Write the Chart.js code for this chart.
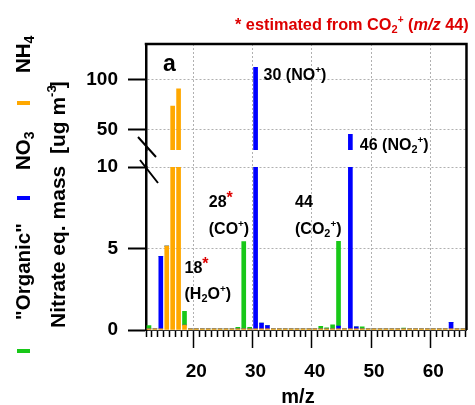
<!DOCTYPE html>
<html>
<head>
<meta charset="utf-8">
<script src="https://cdn.jsdelivr.net/npm/chart.js@4/dist/chart.umd.min.js"></script>
<style>
html,body{margin:0;padding:0;background:#fff;}
#wrap{width:475px;height:405px;position:relative;}
</style>
</head>
<body>
<div id="wrap"><canvas id="c" width="475" height="405"></canvas></div>
<script>
// ---------------- data ----------------
const mz = [12,13,14,15,16,17,18,19,20,21,22,23,24,25,26,27,28,29,30,31,32,33,34,35,36,37,38,39,40,41,42,43,44,45,46,47,48,49,50,51,52,53,54,55,56,57,58,59,60,61,62,63,64,65];
const organic = [
  0.2,0,0,0,0,0,0.85,0,0,0,
  0,0,0,0,0,0.1,5.35,0.1,0,0,
  0,0,0,0,0,0,0,0,0,0.15,
  0.07,0.25,5.2,0,0,0,0.12,0,0,0,
  0,0,0,0.05,0,0,0,0,0,0,
  0,0,0,0];
const nitrate = [
  0,0,4.45,0,0,0,0,0,0,0,
  0,0,0,0,0,0,0,0,111.9,0.35,
  0.2,0,0,0,0,0,0,0,0,0,
  0,0,0.17,0,45.5,0.12,0,0,0,0,
  0,0,0,0,0,0,0,0,0,0,
  0,0.4,0,0];
const ammonium = [
  0.07,0.07,0.07,5.15,73.6,90.7,0.3,0.07,0.07,0.07,
  0.07,0.07,0.07,0.07,0.07,0.07,0.07,0.07,0.07,0.07,
  0.07,0.07,0.07,0.07,0.07,0.07,0.07,0.07,0.07,0.07,
  0.07,0.07,0.07,0.07,0.07,0.07,0.07,0.07,0.07,0.07,
  0.07,0.07,0.07,0.07,0.07,0.07,0.07,0.07,0.07,0.07,
  0.07,0.07,0.07,0.07];
const xMajorTicks = [20,30,40,50,60];
const yLowTicks = [0,5,10];
const yHighTicks = [50,100];
const lowRange = [0,10];
const highRange = [30,135];
const xRange = [12,65.1];

// ---------------- styling ----------------
const FONT = '"Liberation Sans", Arial, Helvetica, sans-serif';
const C_ORG = '#18c818', C_NO3 = '#0000ff', C_NH4 = '#ffa800', C_RED = '#dd0000';

// series in stacking order (bottom -> top)
const series = [
  {name:'NH4', values: ammonium, color: C_NH4},
  {name:'NO3', values: nitrate, color: C_NO3},
  {name:'Org', values: organic, color: C_ORG}
];

// lower segment: stacked, capped at the segment top
const running = mz.map(() => 0);
const datasets = [];
series.forEach(s => {
  datasets.push({
    label: s.name + ' low', yAxisID: 'yLow', backgroundColor: s.color,
    data: mz.map((m, i) => {
      const v = Math.max(0, Math.min(s.values[i], lowRange[1] - running[i]));
      running[i] += v;
      return {x: m, y: v};
    }),
    barThickness: 4, grouped: false, borderWidth: 0
  });
});
// upper segment: floating bars from segment bottom to value
series.forEach(s => {
  datasets.push({
    label: s.name + ' high', yAxisID: 'yHigh', backgroundColor: s.color,
    data: mz.map((m, i) => s.values[i] > highRange[0] ? {x: m, y: [highRange[0], s.values[i]]} : null).filter(d => d),
    barThickness: 4, grouped: false, borderWidth: 0
  });
});

// rich text helper
function rich(ctx, x, y, parts, size) {
  let cx = 0;
  ctx.textAlign = 'left';
  ctx.textBaseline = 'alphabetic';
  for (const p of parts) {
    const t = p.t, mode = p.m || 'n';
    let fs = size, dy = 0;
    if (mode === 'sup') { fs = size * 0.62; dy = -size * 0.42; }
    if (mode === 'sub') { fs = size * 0.68; dy = size * 0.2; }
    if (mode === 'star') { fs = size; dy = -size * 0.25; }
    ctx.font = (p.it ? 'italic ' : '') + 'bold ' + fs + 'px ' + FONT;
    ctx.fillStyle = p.c || '#000';
    cx += (p.back || 0);
    ctx.fillText(t, x + cx, y + dy);
    cx += ctx.measureText(t).width;
  }
}

const decor = {
  id: 'decor',
  afterDraw(chart) {
    const ctx = chart.ctx, ca = chart.chartArea;
    const sx = chart.scales.x, lo = chart.scales.yLow, hi = chart.scales.yHigh;
    ctx.save();
    // frame: top & right
    ctx.strokeStyle = '#000';
    ctx.lineWidth = 2.5;
    ctx.beginPath();
    ctx.moveTo(ca.left - 1.25, ca.top);
    ctx.lineTo(ca.right, ca.top);
    ctx.lineTo(ca.right, ca.bottom);
    ctx.stroke();
    // axis break marks
    ctx.lineWidth = 2;
    ctx.beginPath();
    ctx.moveTo(ca.left - 8, hi.bottom - 13); ctx.lineTo(ca.left + 10, hi.bottom + 7);
    ctx.moveTo(ca.left - 6, lo.top - 7); ctx.lineTo(ca.left + 12, lo.top + 16);
    ctx.stroke();

    // panel letter
    ctx.font = 'bold 23px ' + FONT; ctx.fillStyle = '#000';
    ctx.textAlign = 'left'; ctx.textBaseline = 'alphabetic';
    ctx.fillText('a', ca.left + 17, ca.top + 27);

    // peak annotations
    const s = 16;
    rich(ctx, sx.getPixelForValue(30) + 8, 80, [{t:'30 (NO'},{t:'+',m:'sup'},{t:')'}], s);
    rich(ctx, sx.getPixelForValue(46) + 9.5, 150, [{t:'46 (NO'},{t:'2',m:'sub'},{t:'+',m:'sup'},{t:')'}], s);
    rich(ctx, sx.getPixelForValue(28) - 35, 207, [{t:'28'},{t:'*',m:'star',c:C_RED}], s);
    rich(ctx, sx.getPixelForValue(28) - 35, 233.5, [{t:'(CO'},{t:'+',m:'sup'},{t:')'}], s);
    rich(ctx, sx.getPixelForValue(44) - 43.5, 207, [{t:'44'}], s);
    rich(ctx, sx.getPixelForValue(44) - 43.5, 233.5, [{t:'(CO'},{t:'2',m:'sub'},{t:'+',m:'sup'},{t:')'}], s);
    rich(ctx, sx.getPixelForValue(18), 273.3, [{t:'18'},{t:'*',m:'star',c:C_RED}], s);
    rich(ctx, sx.getPixelForValue(18), 298.5, [{t:'(H'},{t:'2',m:'sub'},{t:'O'},{t:'+',m:'sup'},{t:')'}], s);

    // top note
    rich(ctx, 235, 30, [
      {t:'* estimated from CO', c:C_RED},
      {t:'2', m:'sub', c:C_RED},
      {t:'+', m:'sup', c:C_RED},
      {t:' (', c:C_RED},
      {t:'m/z', it:true, c:C_RED},
      {t:' 44)', c:C_RED}
    ], 16.3);

    // x title
    ctx.font = 'bold 20px ' + FONT; ctx.fillStyle = '#000';
    ctx.textAlign = 'center'; ctx.textBaseline = 'alphabetic';
    ctx.fillText('m/z', 298, 403);

    // y title (rotated)
    ctx.save();
    ctx.translate(65, 328); ctx.rotate(-Math.PI / 2);
    rich(ctx, 0, 0, [{t:'Nitrate eq. mass  [ug m'},{t:'-3',m:'sup'},{t:']',back:-3}], 21);
    ctx.restore();

    // legend (rotated column)
    const leg = [
      {color: C_ORG, mark: 351, y: 320, parts: [{t:'"Organic"'}]},
      {color: C_NO3, mark: 198, y: 170, parts: [{t:'NO'},{t:'3',m:'sub'}]},
      {color: C_NH4, mark: 103, y: 73, parts: [{t:'NH'},{t:'4',m:'sub'}]}
    ];
    leg.forEach(l => {
      ctx.fillStyle = l.color;
      ctx.fillRect(17, l.mark - 2, 13, 4);
      ctx.save();
      ctx.translate(30, l.y); ctx.rotate(-Math.PI / 2);
      rich(ctx, 0, 0, l.parts, 20.5);
      ctx.restore();
    });
    ctx.restore();
  }
};

const tickFont = {family: FONT, size: 19, weight: 'bold'};
const dotted = '#b0b0b0';

new Chart(document.getElementById('c'), {
  type: 'bar',
  data: {datasets},
  options: {
    responsive: false,
    animation: false,
    devicePixelRatio: 1,
    events: [],
    layout: {padding: {top: 44, right: 7, left: 0, bottom: 0}},
    plugins: {legend: {display: false}, tooltip: {enabled: false}},
    scales: {
      x: {
        type: 'linear', position: 'bottom', min: xRange[0], max: xRange[1],
        afterBuildTicks: sc => { sc.ticks = mz.map(v => ({value: v})); },
        afterFit: sc => { sc.height = 75; },
        ticks: {
          autoSkip: false, maxRotation: 0, minRotation: 0, padding: 12,
          font: tickFont, color: '#000',
          callback: v => xMajorTicks.includes(v) ? String(v) : ''
        },
        grid: {
          color: c => (c.tick && xMajorTicks.includes(c.tick.value)) ? dotted : 'rgba(0,0,0,0)',
          lineWidth: 1,
          tickLength: 18, tickColor: '#000', tickWidth: 1.5,
          tickBorderDash: c => (c.tick && xMajorTicks.includes(c.tick.value)) ? [] : [6, 40]
        },
        border: {display: true, color: '#333', width: 1, dash: [2, 2]}
      },
      yLow: {
        type: 'linear', position: 'left', stack: 'v', stackWeight: 163, stacked: true,
        min: lowRange[0], max: lowRange[1],
        afterBuildTicks: sc => { sc.ticks = yLowTicks.map(v => ({value: v})); },
        afterFit: sc => { sc.width = 146; },
        ticks: {font: tickFont, color: '#000', padding: 10},
        grid: {
          color: c => (c.tick && c.tick.value === 0) ? 'rgba(0,0,0,0)' : dotted,
          lineWidth: 1, tickLength: 18, tickColor: '#000', tickWidth: 2
        },
        border: {display: true, color: '#000', width: 2.5, dash: [2, 2]}
      },
      yGap: {
        type: 'linear', position: 'left', stack: 'v', stackWeight: 17,
        min: 0, max: 1,
        afterFit: sc => { sc.width = 146; },
        ticks: {display: false},
        grid: {display: false},
        border: {display: true, color: '#000', width: 2.5}
      },
      yHigh: {
        type: 'linear', position: 'left', stack: 'v', stackWeight: 106, stacked: false,
        min: highRange[0], max: highRange[1],
        afterBuildTicks: sc => { sc.ticks = yHighTicks.map(v => ({value: v})); },
        afterFit: sc => { sc.width = 146; },
        ticks: {font: tickFont, color: '#000', padding: 10},
        grid: {
          color: dotted, lineWidth: 1,
          tickLength: 18, tickColor: '#000', tickWidth: 2
        },
        border: {display: true, color: '#000', width: 2.5, dash: [2, 2]}
      }
    }
  },
  plugins: [decor]
});
</script>
</body>
</html>
